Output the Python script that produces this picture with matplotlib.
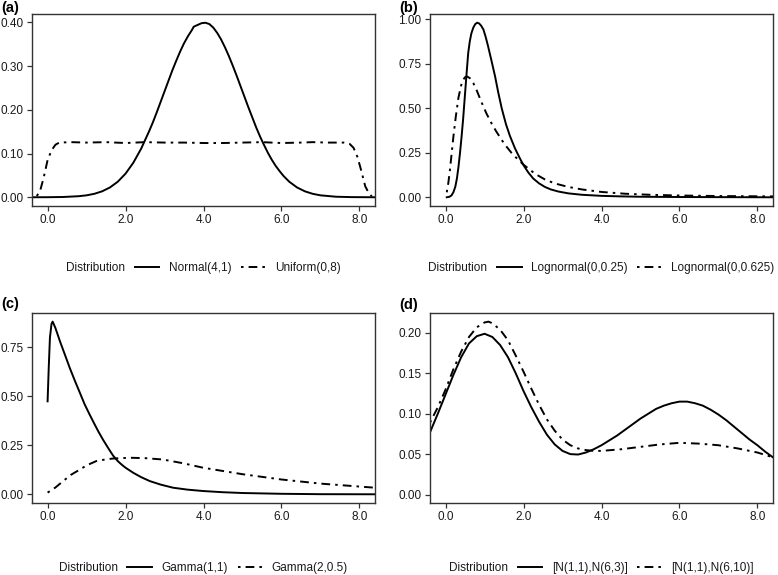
import matplotlib
matplotlib.use("Agg")
import matplotlib.pyplot as plt
from matplotlib.lines import Line2D

plt.rcParams['font.family'] = ['Liberation Sans', 'DejaVu Sans']

# ---------------- data ----------------
# (a)
a_norm_x = [-0.4, 0.0, 0.4, 0.8, 1.0, 1.2, 1.4, 1.6, 1.8, 2.0, 2.2, 2.4, 2.6, 2.7, 2.8, 2.9,
            3.0, 3.1, 3.2, 3.3, 3.4, 3.5, 3.6, 3.7, 3.75, 3.85, 3.95, 4.05, 4.15, 4.25, 4.35,
            4.45, 4.55, 4.65, 4.75, 4.85, 4.95, 5.05, 5.15, 5.25, 5.35, 5.45, 5.55, 5.65,
            5.75, 5.85, 5.95, 6.05, 6.2, 6.4, 6.6, 6.8, 7.0, 7.4, 7.8, 8.4]
a_norm_y = [0.0, 0.0001, 0.0006, 0.0024, 0.0044, 0.0079, 0.0136, 0.0224, 0.0355, 0.054,
            0.079, 0.111, 0.150, 0.171, 0.194, 0.218, 0.242, 0.266, 0.290, 0.312, 0.333,
            0.352, 0.368, 0.382, 0.390, 0.394, 0.398, 0.399, 0.396, 0.388, 0.376, 0.361,
            0.343, 0.323, 0.301, 0.278, 0.254, 0.230, 0.206, 0.183, 0.160, 0.139, 0.120,
            0.102, 0.086, 0.072, 0.060, 0.049, 0.0355, 0.0224, 0.0136, 0.0079, 0.0044,
            0.0012, 0.0003, 0.0]
a_unif_x = [-0.28, -0.2, -0.1, 0.0, 0.1, 0.2, 0.3, 0.6, 1.0, 1.5, 2.0, 2.5, 3.0, 3.5, 4.0,
            4.5, 5.0, 5.5, 6.0, 6.5, 6.8, 7.2, 7.6, 7.75, 7.85, 7.95, 8.05, 8.15, 8.25, 8.32]
a_unif_y = [0.003, 0.012, 0.045, 0.085, 0.107, 0.120, 0.125, 0.126, 0.125, 0.126, 0.124,
            0.126, 0.125, 0.125, 0.124, 0.124, 0.125, 0.126, 0.124, 0.125, 0.126, 0.125,
            0.125, 0.122, 0.113, 0.092, 0.060, 0.025, 0.008, 0.002]
# (b)
b_ln1_x = [0.03, 0.1, 0.15, 0.2, 0.25, 0.29, 0.33, 0.37, 0.41, 0.45, 0.5, 0.54, 0.58, 0.62,
           0.66, 0.71, 0.76, 0.81, 0.86, 0.91, 0.97, 1.03, 1.09, 1.18, 1.27, 1.35, 1.44,
           1.55, 1.65, 1.78, 1.91, 2.0, 2.12, 2.25, 2.4, 2.55, 2.7, 2.9, 3.15, 3.5, 4.0,
           4.5, 5.0, 6.0, 7.0, 8.4]
b_ln1_y = [0.0, 0.003, 0.01, 0.028, 0.06, 0.105, 0.17, 0.25, 0.34, 0.44, 0.585, 0.70, 0.81,
           0.875, 0.92, 0.953, 0.973, 0.981, 0.977, 0.965, 0.943, 0.90, 0.849, 0.765, 0.679,
           0.59, 0.50, 0.41, 0.345, 0.275, 0.217, 0.18, 0.14, 0.105, 0.078, 0.058, 0.044,
           0.032, 0.022, 0.014, 0.008, 0.005, 0.003, 0.0015, 0.0008, 0.0]
b_ln2_x = [0.03, 0.07, 0.11, 0.15, 0.2, 0.26, 0.33, 0.4, 0.45, 0.5, 0.55, 0.62, 0.71, 0.8,
           0.92, 1.05, 1.18, 1.3, 1.44, 1.55, 1.69, 1.8, 1.99, 2.2, 2.35, 2.55, 2.8, 3.15,
           3.5, 4.0, 4.6, 5.25, 6.0, 7.0, 8.4]
b_ln2_y = [0.028, 0.08, 0.151, 0.235, 0.34, 0.45, 0.56, 0.63, 0.66, 0.675, 0.679, 0.67,
           0.642, 0.60, 0.535, 0.47, 0.415, 0.37, 0.322, 0.288, 0.25, 0.225, 0.185, 0.148,
           0.125, 0.10, 0.078, 0.058, 0.044, 0.030, 0.020, 0.014, 0.010, 0.007, 0.005]
# (c)
c_g1_x = [0.0, 0.03, 0.06, 0.1, 0.13, 0.2, 0.32, 0.45, 0.57, 0.7, 0.83, 0.95, 1.08, 1.2,
          1.3, 1.42, 1.55, 1.68, 1.8, 1.9, 2.0, 2.2, 2.4, 2.62, 2.9, 3.22, 3.6, 4.0, 4.5,
          5.0, 5.5, 6.0, 7.0, 8.4]
c_g1_y = [0.475, 0.65, 0.80, 0.87, 0.882, 0.85, 0.78, 0.71, 0.645, 0.58, 0.518, 0.46, 0.407,
          0.36, 0.322, 0.28, 0.238, 0.198, 0.17, 0.152, 0.136, 0.11, 0.088, 0.068, 0.05,
          0.034, 0.024, 0.017, 0.011, 0.007, 0.005, 0.003, 0.001, 0.0005]
c_g2_x = [0.0, 0.2, 0.4, 0.6, 0.83, 1.0, 1.25, 1.5, 1.68, 2.11, 2.5, 2.96, 3.5, 3.99, 5.0,
          6.0, 7.0, 8.0, 8.4]
c_g2_y = [0.009, 0.035, 0.068, 0.1, 0.127, 0.148, 0.17, 0.179, 0.183, 0.187, 0.185, 0.178,
          0.158, 0.136, 0.103, 0.076, 0.055, 0.040, 0.034]
# (d)
d_m1_x = [-0.4, -0.2, 0.0, 0.2, 0.4, 0.6, 0.8, 1.0, 1.2, 1.4, 1.6, 1.8, 2.0, 2.2, 2.4, 2.6,
          2.8, 3.0, 3.2, 3.4, 3.6, 3.8, 4.0, 4.2, 4.4, 4.6, 4.8, 5.0, 5.2, 5.4, 5.6, 5.8,
          6.0, 6.2, 6.4, 6.6, 6.8, 7.0, 7.2, 7.4, 7.6, 7.8, 8.0, 8.2, 8.4]
d_m1_y = [0.077, 0.100, 0.124, 0.148, 0.170, 0.187, 0.196, 0.199, 0.195, 0.185, 0.170,
          0.150, 0.128, 0.108, 0.090, 0.074, 0.062, 0.054, 0.050, 0.0495, 0.052, 0.056,
          0.061, 0.067, 0.073, 0.080, 0.087, 0.094, 0.100, 0.106, 0.110, 0.113, 0.115,
          0.115, 0.113, 0.110, 0.105, 0.099, 0.092, 0.084, 0.076, 0.068, 0.061, 0.053, 0.046]
d_m2_x = [-0.4, -0.2, 0.0, 0.2, 0.4, 0.6, 0.8, 1.0, 1.1, 1.2, 1.4, 1.6, 1.8, 2.0, 2.2, 2.4,
          2.6, 2.8, 3.0, 3.2, 3.4, 3.6, 3.8, 4.0, 4.5, 5.0, 5.5, 6.0, 6.5, 7.0, 7.5, 8.0, 8.4]
d_m2_y = [0.089, 0.108, 0.130, 0.155, 0.177, 0.195, 0.207, 0.213, 0.214, 0.212, 0.204,
          0.191, 0.172, 0.152, 0.131, 0.111, 0.093, 0.079, 0.068, 0.061, 0.057, 0.055,
          0.054, 0.054, 0.056, 0.059, 0.062, 0.064, 0.063, 0.061, 0.057, 0.052, 0.046]

panel_labels = ['(a)', '(b)', '(c)', '(d)']
series_names = [('Normal(4,1)', 'Uniform(0,8)'),
                ('Lognormal(0,0.25)', 'Lognormal(0,0.625)'),
                ('Gamma(1,1)', 'Gamma(2,0.5)'),
                ('[N(1,1),N(6,3)]', '[N(1,1),N(6,10)]')]
x_ticks = [0, 2, 4, 6, 8]
y_ticks = [[0.0, 0.1, 0.2, 0.3, 0.4],
           [0.0, 0.25, 0.5, 0.75, 1.0],
           [0.0, 0.25, 0.5, 0.75],
           [0.0, 0.05, 0.10, 0.15, 0.20]]
y_limits = [(-0.02, 0.419), (-0.049, 1.03), (-0.044, 0.926), (-0.0105, 0.2247)]
series = [((a_norm_x, a_norm_y), (a_unif_x, a_unif_y)),
          ((b_ln1_x, b_ln1_y), (b_ln2_x, b_ln2_y)),
          ((c_g1_x, c_g1_y), (c_g2_x, c_g2_y)),
          ((d_m1_x, d_m1_y), (d_m2_x, d_m2_y))]

# ---------------- layout ----------------
W, H = 778, 575
fig = plt.figure(figsize=(W / 100, H / 100), dpi=100)
boxes = [(32, 14, 375, 206), (430, 14, 773, 206), (32, 313, 375, 503), (430, 313, 773, 503)]
legend_y = [268, 268, 568, 568]
label_pos = [(1, 1), (399, 1), (1, 297), (399, 298)]

DASH = (1.3, 2.6, 4.5, 2.6)
LW = 1.4
TXT = '#1a1a1a'
FS = 8.5

for i in range(4):
    l, t, r, b = boxes[i]
    ax = fig.add_axes([l / W, 1 - b / H, (r - l) / W, (b - t) / H])
    (x1, y1), (x2, y2) = series[i]
    ax.plot(x1, y1, color='black', lw=LW, solid_joinstyle='round')
    ax.plot(x2, y2, color='black', lw=LW, dashes=DASH)
    ax.set_xlim(-0.4, 8.4)
    ax.set_ylim(*y_limits[i])
    ax.set_xticks(x_ticks)
    ax.set_xticklabels([f'{v:.1f}' for v in x_ticks])
    ax.set_yticks(y_ticks[i])
    ax.set_yticklabels([f'{v:.2f}' for v in y_ticks[i]])
    ax.tick_params(direction='out', length=3.5, width=0.9, color='#333333',
                   labelsize=FS, labelcolor=TXT, pad=2.5)
    for s in ax.spines.values():
        s.set_linewidth(1.0)
        s.set_color('#333333')
    px, py = label_pos[i]
    fig.text(px / W, 1 - py / H, panel_labels[i], fontsize=10.5,
             fontweight='bold', ha='left', va='top', color='black')

    # legend with title to the left
    handles = [Line2D([], [], linestyle='none'),
               Line2D([], [], color='black', lw=LW),
               Line2D([], [], color='black', lw=LW, dashes=DASH)]
    labels = ['Distribution', series_names[i][0], series_names[i][1]]
    hl = 2.1
    htp = 0.8
    shift_px = (hl + htp) * FS * 100 / 72 / 2
    cx = ((l + r) / 2 - shift_px) / W
    leg = fig.legend(handles, labels, loc='center', ncol=3,
                     bbox_to_anchor=(cx, 1 - legend_y[i] / H),
                     frameon=False, fontsize=FS, handlelength=hl,
                     handletextpad=htp, columnspacing=0.8, borderpad=0)
    for tx in leg.get_texts():
        tx.set_color(TXT)

fig.savefig('out.png', dpi=100)
